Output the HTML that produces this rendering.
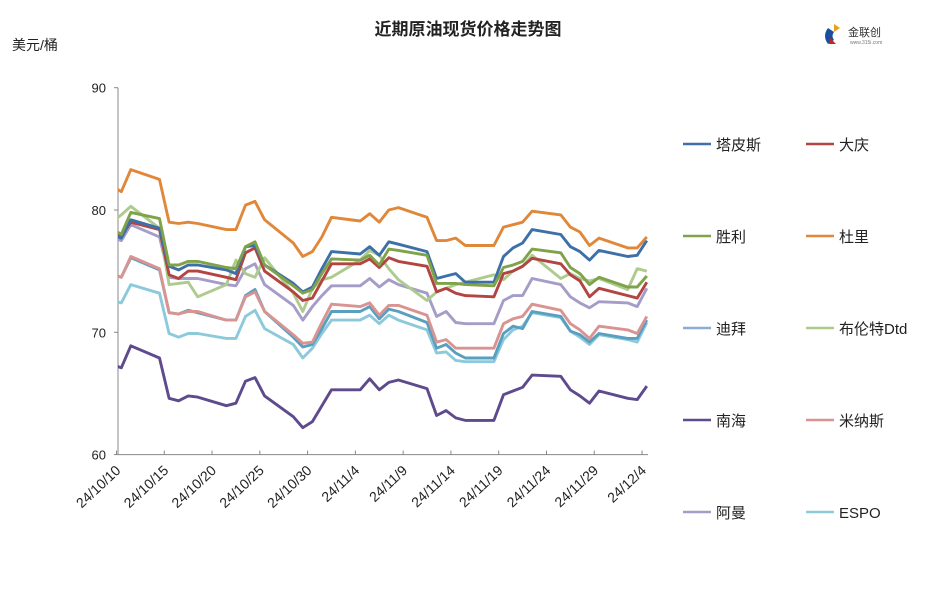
<!DOCTYPE html>
<html><head><meta charset="utf-8"><style>
body{margin:0;background:#fff;}
svg text{font-family:"Liberation Sans","Noto Sans CJK SC",sans-serif;}
</style></head><body>
<svg id="chart" width="937" height="601" xmlns="http://www.w3.org/2000/svg">
<rect width="937" height="601" fill="#fff"/>
<text x="468" y="35" text-anchor="middle" font-size="17" font-weight="bold" fill="#222">近期原油现货价格走势图</text>
<text x="12" y="50" font-size="14" fill="#222">美元/桶</text>
<g>
<path d="M828 28 q-6 8 0 16 l6 -4 q-3 -4 0 -8z" fill="#1a4fa0"/><path d="M834 24 l6 4 -6 4z" fill="#e8a020"/><path d="M830 38 l6 6 -7 0z" fill="#d02020"/>
<text x="848" y="36" font-size="11" fill="#333">金联创</text><text x="850" y="44" font-size="5" fill="#777">www.315i.com</text>
</g>
<g id="axes"></g>
<g id="series" clip-path="url(#clip)"></g>
<g id="legend"></g>
<defs><clipPath id="clip"><rect x="118" y="80" width="540" height="376"/></clipPath></defs>
</svg>
<script>
const dates=["10/9","10/10","10/11","10/14","10/15","10/16","10/17","10/18","10/21","10/22","10/23","10/24","10/25","10/28","10/29","10/30","10/31","11/1","11/4","11/5","11/6","11/7","11/8","11/11","11/12","11/13","11/14","11/15","11/18","11/19","11/20","11/21","11/22","11/25","11/26","11/27","11/28","11/29","12/2","12/3","12/4"];
const yTicks=[60,70,80,90];
const xTickLabels=["24/10/10","24/10/15","24/10/20","24/10/25","24/10/30","24/11/4","24/11/9","24/11/14","24/11/19","24/11/24","24/11/29","24/12/4"];
const tapis=[78.0,77.7,79.2,78.5,75.4,75.1,75.5,75.5,75.1,74.8,77.0,77.1,75.5,74.0,73.3,73.7,75.2,76.6,76.4,77.0,76.3,77.4,77.2,76.6,74.4,74.6,74.8,74.1,74.1,76.2,76.9,77.3,78.4,78.0,77.0,76.6,75.9,76.7,76.2,76.3,77.5];
const daqing=[78.2,77.9,79.0,78.4,74.7,74.4,75.0,75.0,74.5,74.3,76.5,76.9,75.0,73.3,72.6,72.8,74.2,75.6,75.6,76.0,75.3,76.1,75.8,75.4,73.3,73.6,73.2,73.0,72.9,74.8,75.0,75.4,76.05,75.6,74.7,74.2,72.9,73.6,73.0,72.8,74.1];
const shengli=[78.5,78.0,79.8,79.3,75.5,75.5,75.8,75.8,75.3,75.2,77.0,77.4,75.5,73.8,73.2,73.5,74.8,76.0,75.9,76.3,75.5,76.8,76.7,76.3,74.0,74.0,74.0,73.9,73.8,75.3,75.5,75.8,76.8,76.5,75.3,74.8,73.9,74.5,73.7,73.7,74.6];
const duri=[82.0,81.5,83.3,82.5,79.0,78.9,79.0,78.9,78.4,78.4,80.4,80.7,79.2,77.3,76.2,76.6,77.8,79.4,79.1,79.7,79.0,80.0,80.2,79.4,77.5,77.5,77.7,77.1,77.1,78.6,78.8,79.0,79.9,79.6,78.6,78.2,77.1,77.7,76.9,76.9,77.8];
const dubai=[74.8,74.5,76.1,75.1,71.6,71.5,71.8,71.6,71.0,71.0,73.0,73.5,71.7,69.6,68.8,69.0,70.3,71.7,71.7,72.1,71.1,71.9,71.7,70.8,68.7,69.0,68.3,67.9,67.9,69.9,70.5,70.3,71.7,71.3,70.1,69.8,69.2,69.9,69.5,69.5,71.0];
const brent=[79.0,79.6,80.3,78.5,73.9,74.0,74.1,72.9,73.9,75.9,74.8,74.5,76.1,73.2,71.7,73.6,74.3,74.5,75.9,76.7,76.3,75.2,74.3,72.6,73.3,73.6,73.9,74.1,74.7,74.3,75.0,75.4,76.3,74.4,74.8,74.4,74.2,74.4,73.5,75.2,75.0];
const nanhai=[67.4,67.1,68.9,67.9,64.6,64.4,64.8,64.7,64.0,64.2,66.0,66.3,64.8,63.1,62.2,62.7,64.0,65.3,65.3,66.2,65.3,65.9,66.1,65.4,63.2,63.6,63.0,62.8,62.8,64.9,65.2,65.5,66.5,66.4,65.3,64.8,64.2,65.2,64.6,64.5,65.6];
const minas=[74.8,74.5,76.2,75.2,71.6,71.5,71.7,71.7,71.0,71.0,72.9,73.3,71.7,69.8,69.1,69.2,70.8,72.3,72.1,72.4,71.4,72.2,72.2,71.4,69.2,69.4,68.7,68.7,68.7,70.7,71.1,71.3,72.3,71.8,70.7,70.2,69.5,70.5,70.2,69.9,71.3];
const oman=[77.8,77.5,78.8,77.8,74.5,74.4,74.4,74.4,73.9,73.8,75.2,75.6,73.9,72.2,71.0,72.1,73.0,73.8,73.8,74.4,73.7,74.3,73.9,73.2,71.3,71.7,70.8,70.7,70.7,72.6,73.0,73.0,74.4,73.9,72.9,72.4,72.0,72.5,72.4,72.1,73.6];
const espo=[72.6,72.4,73.9,73.2,69.9,69.6,69.9,69.9,69.5,69.5,71.3,71.8,70.3,69.0,67.9,68.7,69.9,71.0,71.0,71.4,70.7,71.4,71.0,70.2,68.3,68.4,67.7,67.6,67.6,69.4,70.2,70.5,71.6,71.2,70.1,69.6,69.0,69.8,69.4,69.2,70.8];
const seriesNames=["塔皮斯","大庆","胜利","杜里","迪拜","布伦特Dtd","南海","米纳斯","阿曼","ESPO"];
const seriesKeys=["tapis","daqing","shengli","duri","dubai","brent","nanhai","minas","oman","espo"];
const seriesData=[tapis,daqing,shengli,duri,dubai,brent,nanhai,minas,oman,espo];
const lineColors=["#3d6fa8","#b24442","#7fa24a","#e0873a","#5a9fc0","#aecb8e","#5e4a8c","#d99492","#a59cc8","#8ccadb"];
const legendColors=["#3d6fa8","#b24442","#7fa24a","#e0873a","#8eaad6","#aecb8e","#5e4a8c","#d99492","#a59cc8","#8ccadb"];
const NS="http://www.w3.org/2000/svg";
const y0=454.6,pxPerUnit=12.23;
function yScale(v){return y0-(v-60)*pxPerUnit;}
const base=new Date(2024,9,10);
function dayIndex(s){const[m,d]=s.split("/").map(Number);return Math.round((new Date(2024,m-1,d)-base)/86400000);}
const tickX0=116.5,pxPerDay=9.555;
function xScale(s){return tickX0+(dayIndex(s)+0.5)*pxPerDay;}
function tickX(s){return tickX0+dayIndex(s)*pxPerDay;}
function mk(t,a,p){const e=document.createElementNS(NS,t);for(const k in a)e.setAttribute(k,a[k]);p.appendChild(e);return e;}
const axes=document.getElementById('axes');
const yAxis=mk('line',{x1:118,y1:yScale(90),x2:118,y2:yScale(60),stroke:'#888','stroke-width':1},axes);


const xAxis=mk('line',{x1:118,y1:yScale(60),x2:648,y2:yScale(60),stroke:'#888','stroke-width':1},axes);


yTicks.forEach(v=>{
  const t=mk('line',{x1:114,x2:118,y1:yScale(v),y2:yScale(v),stroke:'#888'},axes);
  
  
  const l=mk('text',{x:106,y:yScale(v)+5,'text-anchor':'end','font-size':13,fill:'#222'},axes);
  
  
  l.textContent=v;
});
xTickLabels.forEach(s=>{
  const x=tickX(s.slice(3));
  const t=mk('line',{x1:x,x2:x,y1:yScale(60),y2:yScale(60)-4,stroke:'#888'},axes);
  
  
  const ax=x+5,ay=yScale(60)+17;
  const l=mk('text',{x:ax,y:ay,'text-anchor':'end','font-size':14,fill:'#222',transform:`rotate(-43 ${ax} ${ay})`},axes);
  
  
  l.textContent=s;
});
const sg=document.getElementById('series');
const order=[6,9,4,7,8,5,1,0,2,3];
order.forEach(i=>{
  const pts=seriesData[i].map((v,j)=>xScale(dates[j]).toFixed(1)+','+yScale(v).toFixed(1)).join(' ');
  const p=mk('polyline',{points:pts,fill:'none',stroke:lineColors[i],'stroke-width':2.9,'stroke-linejoin':'round'},sg);
  
  
});
const lg=document.getElementById('legend');
seriesNames.forEach((n,i)=>{
  const col=i%2,row=Math.floor(i/2);
  const lx=col?806:683,ly=144+row*92;
  const g=mk('g',{},lg);
  
  
  mk('line',{x1:lx,x2:lx+28,y1:ly,y2:ly,stroke:legendColors[i],'stroke-width':2.6},g);
  const t=mk('text',{x:lx+33,y:ly+6,'font-size':15,fill:'#222'},g);
  t.textContent=n;
});
</script>
</body></html>
